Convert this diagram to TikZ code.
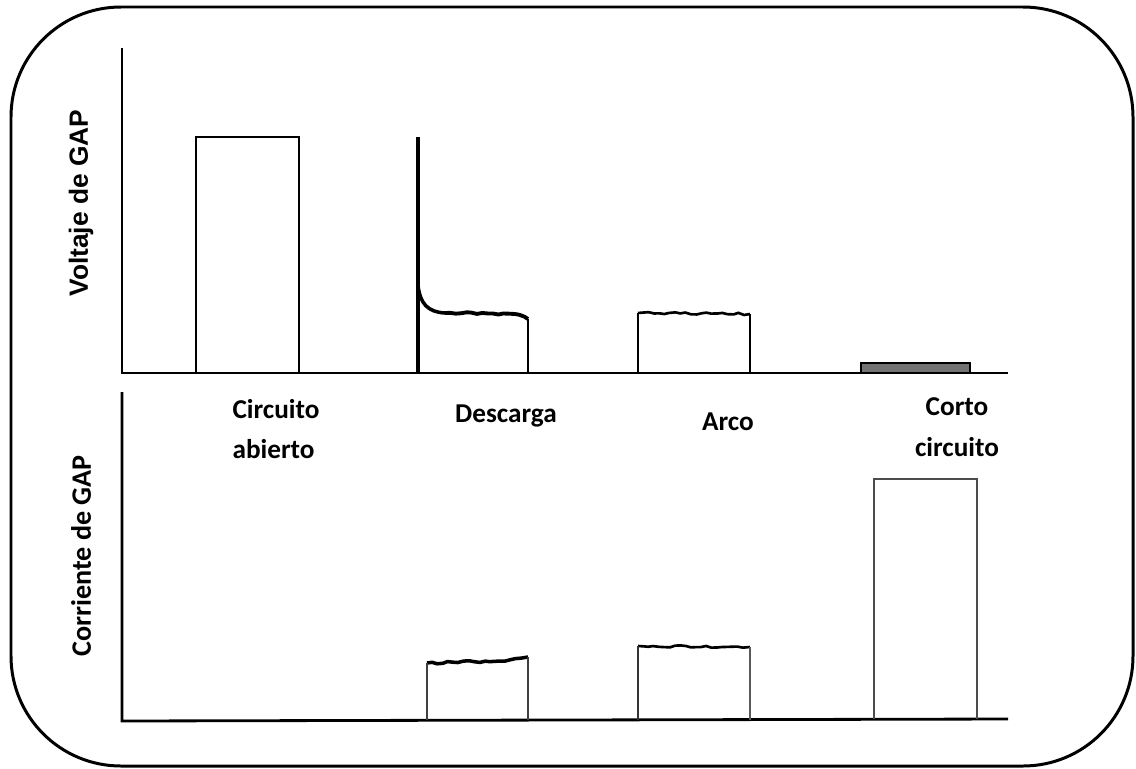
\documentclass[tikz,border=0pt]{standalone}
\usepackage{fontspec}
\setsansfont{Carlito}
\newfontfamily\axisfont{Liberation Sans}
\usetikzlibrary{decorations.pathmorphing}

\tikzset{
    axis/.style={line width=1.6pt},
    pulse/.style={line width=1.5pt},
    noisy/.style={pulse, decorate, decoration={random steps, segment length=3pt, amplitude=0.6pt}},
    caption/.style={font=\sffamily\bfseries\fontsize{15.5}{23}\selectfont},
    ylabel/.style={rotate=90, font=\axisfont\bfseries\fontsize{15}{17}\selectfont}
}

\begin{document}
\begin{tikzpicture}[x=0.02cm, y=-0.02cm]
    \useasboundingbox (0,0) rectangle (1136,768);
    \pgfmathsetseed{7}

    % Outer frame
    \draw[line width=1.7pt, rounded corners=2.2cm] (11,7) rectangle (1133,766);

    % Axis labels
    \node[ylabel] (vgap) at (81,203) {Voltaje de GAP};
    \node[ylabel, font=\sffamily\bfseries\fontsize{16}{18}\selectfont] (igap) at (81,556) {Corriente de GAP};

    % Voltage axes
    \draw[axis] (122,48) -- (122,90);
    \draw[line width=0.6pt] (122,90) -- (122,298);
    \draw[axis] (122,298) -- (122,373) -- (1008,373);

    % Voltage: open circuit
    \draw[pulse] (196,373) -- (196,137) -- (299,137) -- (299,373);
    % Voltage: discharge
    \draw[line width=2pt] (418,373) -- (418,285);
    \draw[pulse, line width=2pt] (418,285) .. controls (420,304) and (428,312) .. (445,313);
    \draw[noisy, line width=2.2pt] (445,313) -- (515,314) -- (528,319);
    \draw[pulse] (528,319) -- (528,373);
    \draw[line width=2.5pt] (418,285) -- (418,137);
    % Voltage: arc
    \draw[noisy] (638,313) -- (750,314);
    \draw[pulse] (638,373) -- (638,313);
    \draw[pulse] (750,314) -- (750,373);
    % Voltage: short circuit
    \draw[pulse, fill=black!55] (861,373) rectangle (970,363);

    % Current axes
    \draw[axis] (122,392) -- (122,721) -- (1008,719);

    % Current: discharge
    \draw[noisy, line width=2pt] (427,663) -- (500,661) -- (528,657);
    \draw[pulse, black!75] (427,720) -- (427,663);
    \draw[pulse, black!75] (528,657) -- (528,720);
    % Current: arc
    \draw[noisy] (638,646) -- (750,647);
    \draw[pulse, black!80] (638,720) -- (638,646);
    \draw[pulse, black!65] (750,647) -- (750,720);
    % Current: short circuit
    \draw[pulse, black!70] (874,719) -- (874,479) -- (977,479) -- (977,719);

    % Mode captions
    \node[caption, align=left] (abierto) at (276,429) {Circuito\\abierto};
    \node[caption] (descarga) at (506,416) {Descarga};
    \node[caption] (arco) at (728,422) {Arco};
    \node[caption, align=center] (corto) at (957,427) {Corto\\circuito};
\end{tikzpicture}
\end{document}
